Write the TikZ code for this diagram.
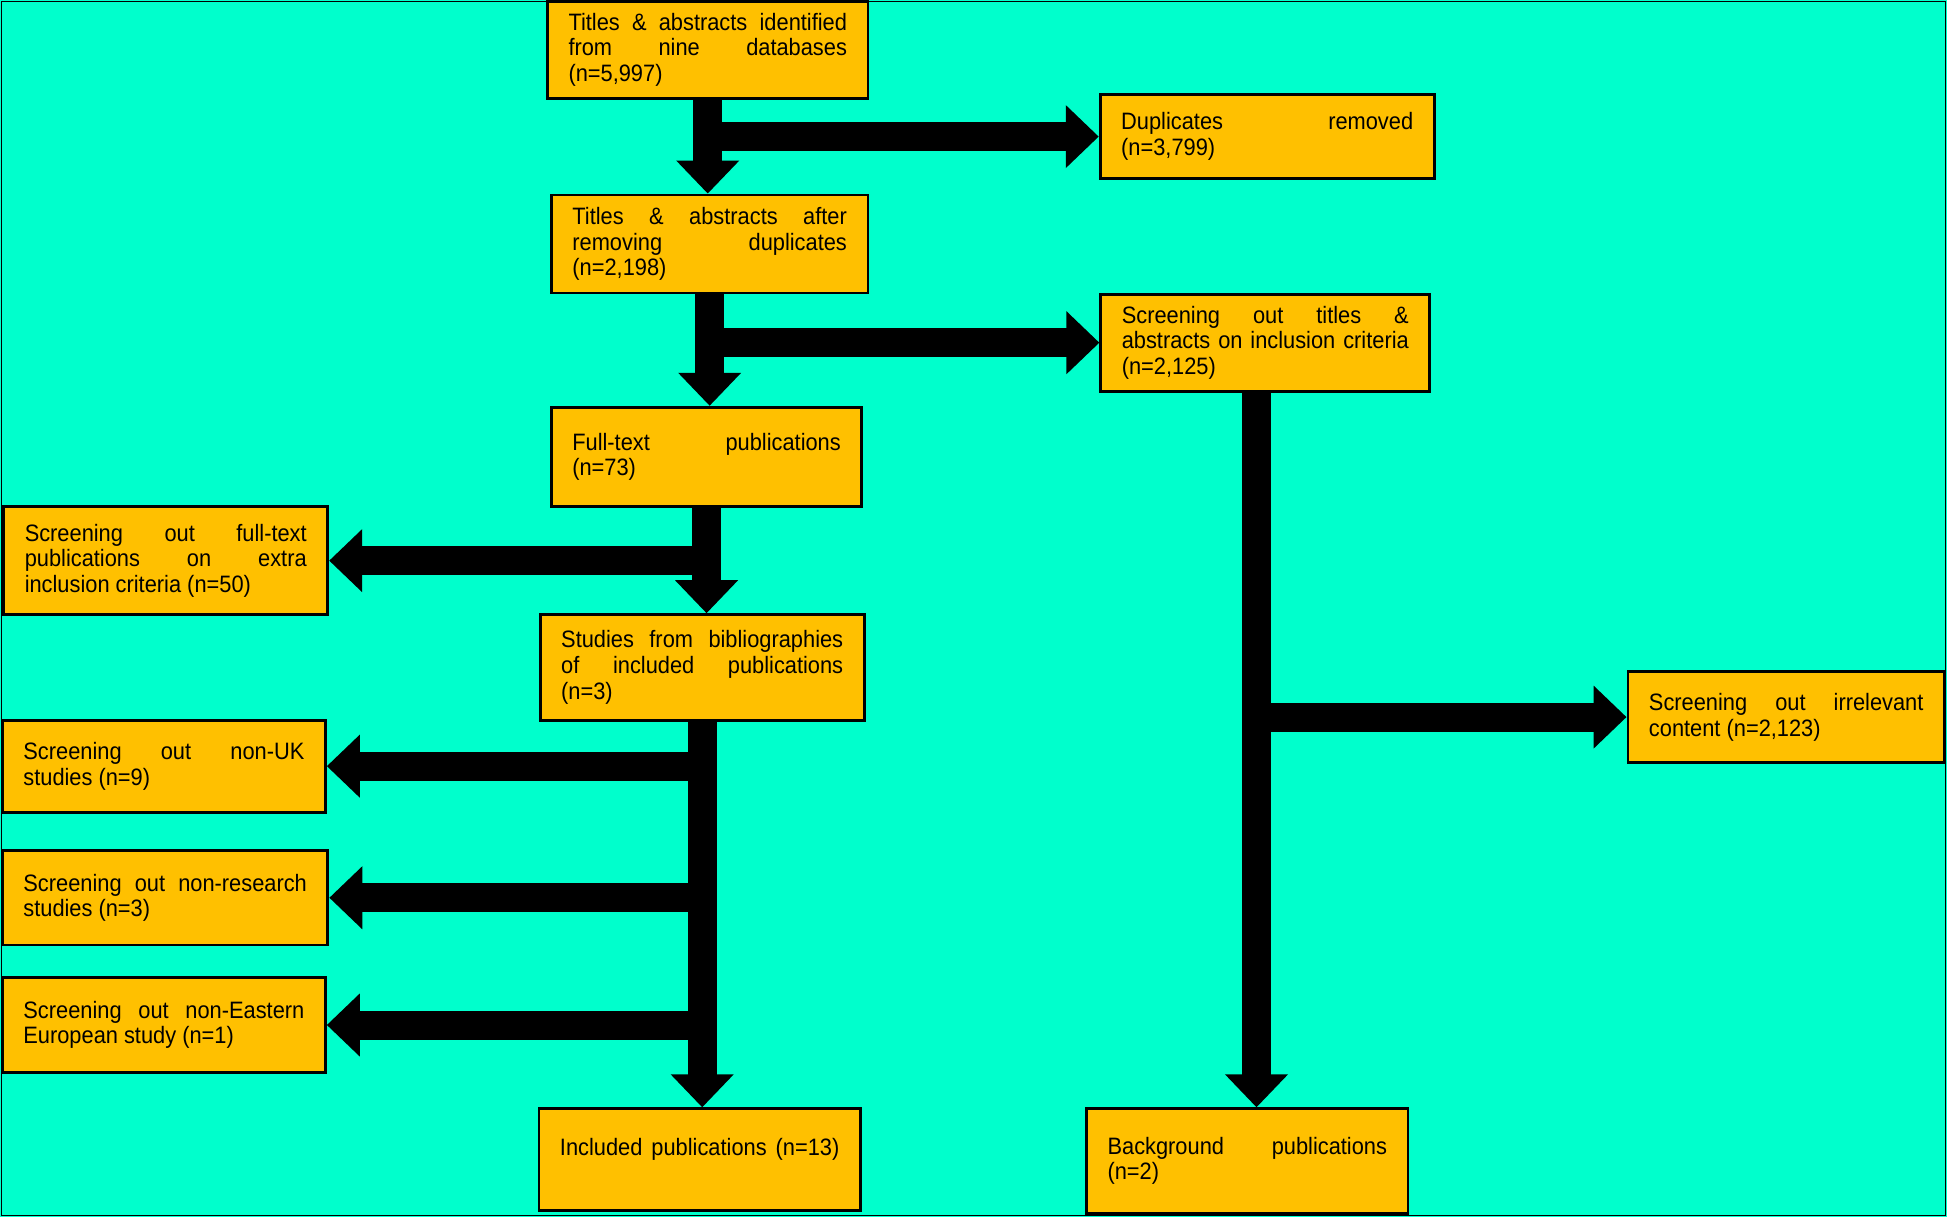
\documentclass[tikz,border=0pt]{standalone}
\usepackage{fontspec}
\setmainfont{Liberation Sans}[FakeStretch=0.92]
\usetikzlibrary{arrows.meta, positioning}
\definecolor{bgaqua}{HTML}{00FFCC}
\definecolor{boxorange}{HTML}{FFC000}
\tolerance=10000
\hyphenpenalty=10000
\exhyphenpenalty=10000

\begin{document}
\begin{tikzpicture}[
    every node/.style={font=\fontsize{13.5}{14.6}\selectfont},
    box/.style={draw, line width=1.6pt, fill=boxorange, align=justify,
                inner xsep=0.42cm, inner ysep=0pt},
    arrow/.style={-{Triangle[length=0.66cm 0 0, width=1.22cm 0 0]}, line width=0.58cm}
  ]
    \useasboundingbox (0,0) rectangle (38.94,-24.34);
    \fill[bgaqua] (0,0) rectangle (38.94,-24.34);
    \draw[line width=0.8pt] (0.03,-0.03) rectangle (38.91,-24.31);

    % main column
    \node[box, text width=5.57cm, minimum height=1.94cm] (ident) at (14.155,-0.993)
      {Titles \& abstracts identified\linebreak from nine databases\linebreak(n=5,997)};
    \node[box, text width=5.49cm, minimum height=1.96cm] (tiab) at (14.193,-4.880)
      {Titles \& abstracts after\linebreak removing duplicates\linebreak(n=2,198)};
    \node[box, text width=5.37cm, minimum height=1.99cm] (fulltext) at (14.131,-9.139)
      {Full-text publications\linebreak(n=73)};
    \node[box, text width=5.64cm, minimum height=2.11cm] (biblio) at (14.044,-13.348)
      {Studies from bibliographies\linebreak of included publications\linebreak(n=3)};
    \node[box, text width=5.59cm, minimum height=2.04cm] (incl) at (13.994,-23.195)
      {Included publications (n=13)\linebreak\mbox{}};

    % right column
    \node[box, text width=5.84cm, minimum height=1.69cm] (dups) at (25.343,-2.732)
      {Duplicates removed\linebreak(n=3,799)};
    \node[box, text width=5.74cm, minimum height=1.94cm] (screened) at (25.306,-6.854)
      {Screening out titles \&\linebreak abstracts on inclusion criteria\linebreak(n=2,125)};
    \node[box, text width=5.49cm, minimum height=1.81cm] (irrel) at (35.724,-14.342)
      {Screening out irrelevant\linebreak content (n=2,123)};
    \node[box, text width=5.59cm, minimum height=2.09cm] (backgr) at (24.946,-23.220)
      {Background publications\linebreak(n=2)};

    % left column
    \node[box, text width=5.64cm, minimum height=2.16cm] (ftout) at (3.315,-11.213)
      {Screening out full-text\linebreak publications on extra\linebreak inclusion criteria (n=50)};
    \node[box, text width=5.62cm, minimum height=1.84cm] (nonuk) at (3.278,-15.323)
      {Screening out non-UK\linebreak studies (n=9)};
    \node[box, text width=5.67cm, minimum height=1.89cm] (nonres) at (3.303,-17.955)
      {Screening out non-research\linebreak studies (n=3)};
    \node[box, text width=5.62cm, minimum height=1.91cm] (noneast) at (3.278,-20.500)
      {Screening out non-Eastern\linebreak European study (n=1)};

    \draw[arrow] (ident.south) -- (ident.south |- tiab.north);
    \draw[arrow] (ident.south |- dups.west) -- (dups.west);
    \draw[arrow] (tiab.south) -- (tiab.south |- fulltext.north);
    \draw[arrow] (tiab.south |- screened.west) -- (screened.west);
    \draw[arrow] (fulltext.south) -- (fulltext.south |- biblio.north);
    \draw[arrow] (fulltext.south |- ftout.east) -- (ftout.east);
    \draw[arrow] (biblio.south) -- (biblio.south |- incl.north);
    \foreach \n in {nonuk, nonres, noneast}
      \draw[arrow] (biblio.south |- \n.east) -- (\n.east);

    \coordinate (trunk) at (25.13,-7.8);
    \draw[arrow] (trunk |- screened.south) -- (trunk |- backgr.north);
    \draw[arrow] (trunk |- irrel.west) -- (irrel.west);
\end{tikzpicture}
\end{document}
